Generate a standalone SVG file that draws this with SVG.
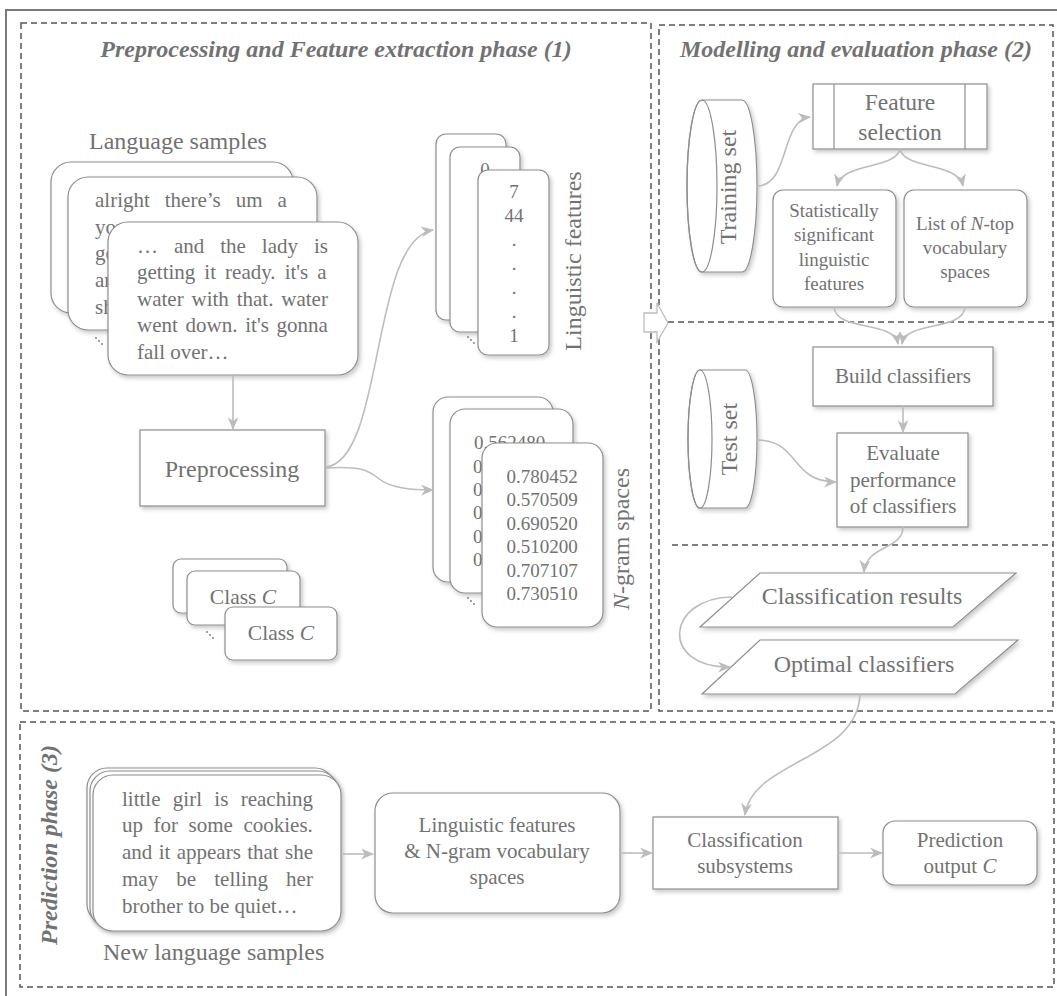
<svg xmlns="http://www.w3.org/2000/svg" width="1057" height="996" viewBox="0 0 1057 996">
<defs>
<filter id="sh" x="-10%" y="-10%" width="130%" height="130%">
<feDropShadow dx="2" dy="2.5" stdDeviation="2" flood-color="#000" flood-opacity="0.22"/>
</filter>
<marker id="ah" viewBox="0 0 12 10" refX="11" refY="5" markerWidth="13" markerHeight="11" markerUnits="userSpaceOnUse" orient="auto">
<path d="M0,0 L12,5 L0,10 L3.5,5 Z" fill="#bcbcbc"/>
</marker>
<style>
.t{font-family:"Liberation Serif","Times New Roman",serif;fill:#727272;}
.ttl{font-weight:bold;font-style:italic;font-size:24px;}
.s24{font-size:24px;}
.s21{font-size:21px;}
.s19{font-size:19px;}
.m{text-anchor:middle;}
.box{fill:#fff;stroke:#8e8e8e;stroke-width:1.2;filter:url(#sh);}
.dash{fill:none;stroke:#555;stroke-width:1.5;stroke-dasharray:6 4;}
.con{fill:none;stroke:#bdbdbd;stroke-width:1.6;marker-end:url(#ah);}
.dot{fill:#777;}
</style>
</defs>
<rect width="1057" height="996" fill="#fff"/>
<path d="M6,1000 V10 H1062" fill="none" stroke="#7a7a7a" stroke-width="2"/>

<g id="phases">
<rect class="dash" x="21" y="23" width="630" height="688"/>
<rect class="dash" x="659" y="25" width="394" height="686"/>
<rect class="dash" x="20" y="722" width="1034" height="265"/>
<line class="dash" x1="668" y1="322" x2="1053" y2="322"/>
<line class="dash" x1="672" y1="545" x2="1053" y2="545"/>
<text class="t ttl m" x="336" y="57">Preprocessing and Feature extraction phase (1)</text>
<text class="t ttl m" x="856" y="57">Modelling and evaluation phase (2)</text>
<text class="t ttl m" transform="translate(57,845) rotate(-90)">Prediction phase (3)</text>
</g>

<g id="language-samples">
<text class="t s24" x="89" y="149">Language samples</text>
<rect class="box" x="51" y="162" width="242" height="151" rx="20"/>
<rect class="box" x="68" y="177" width="249" height="153" rx="20"/>
<text class="t s21" x="95" y="207" word-spacing="9.7">alright there’s um a</text>
<text class="t s21" x="95" y="234">you</text>
<text class="t s21" x="95" y="260">ge</text>
<text class="t s21" x="95" y="287">ar</text>
<text class="t s21" x="95" y="314">sh</text>
<rect class="box" x="108" y="222" width="250" height="153" rx="20"/>
<text class="t s21" x="137" y="253" word-spacing="10.7">… and the lady is</text>
<text class="t s21" x="137" y="279" word-spacing="3.8">getting it ready. it's a</text>
<text class="t s21" x="137" y="306" word-spacing="2.6">water with that. water</text>
<text class="t s21" x="137" y="332" word-spacing="2.5">went down. it's gonna</text>
<text class="t s21" x="137" y="359">fall over…</text>
<circle class="dot" cx="96" cy="338" r="0.9"/><circle class="dot" cx="99" cy="341" r="0.9"/><circle class="dot" cx="102" cy="344" r="0.9"/>
</g>

<g id="preprocessing">
<rect class="box" x="140" y="430" width="185" height="76"/>
<text class="t s24 m" x="232" y="477">Preprocessing</text>
</g>

<g id="class-c">
<rect class="box" x="173" y="559" width="114" height="54" rx="8"/>
<rect class="box" x="187" y="571" width="113" height="54" rx="8"/>
<text class="t m" style="font-size:21.5px" x="243" y="604">Class <tspan font-style="italic">C</tspan></text>
<rect class="box" x="225" y="607" width="112" height="53" rx="8"/>
<text class="t m" style="font-size:21.5px" x="281" y="640">Class <tspan font-style="italic">C</tspan></text>
<circle class="dot" cx="207" cy="632" r="0.9"/><circle class="dot" cx="210" cy="635" r="0.9"/><circle class="dot" cx="213" cy="638" r="0.9"/>
</g>

<g id="linguistic-features">
<rect class="box" x="436" y="134" width="70" height="186" rx="10"/>
<rect class="box" x="450" y="147" width="70" height="185" rx="10"/>
<text class="t s19 m" x="485" y="176">0</text>
<rect class="box" x="478" y="170" width="71" height="185" rx="10"/>
<text class="t s19 m" x="514" y="198">7</text>
<text class="t s19 m" x="514" y="222">44</text>
<text class="t s19 m" x="514" y="246">.</text>
<text class="t s19 m" x="514" y="270">.</text>
<text class="t s19 m" x="514" y="294">.</text>
<text class="t s19 m" x="514" y="318">.</text>
<text class="t s19 m" x="514" y="342">1</text>
<circle class="dot" cx="468" cy="337" r="0.9"/><circle class="dot" cx="471" cy="340" r="0.9"/><circle class="dot" cx="474" cy="343" r="0.9"/>
<text class="t s24 m" transform="translate(581,261) rotate(-90)">Linguistic features</text>
</g>

<g id="ngram-spaces">
<rect class="box" x="433" y="397" width="120" height="185" rx="15"/>
<rect class="box" x="450" y="409" width="123" height="184" rx="15"/>
<text class="t s19" x="474" y="449">0.562480</text>
<text class="t s19" x="473" y="473">0</text>
<text class="t s19" x="473" y="496">0</text>
<text class="t s19" x="473" y="519">0</text>
<text class="t s19" x="473" y="543">0</text>
<text class="t s19" x="473" y="566">0</text>
<rect class="box" x="482" y="443" width="121" height="184" rx="15"/>
<text class="t s19 m" x="542" y="483">0.780452</text>
<text class="t s19 m" x="542" y="506">0.570509</text>
<text class="t s19 m" x="542" y="530">0.690520</text>
<text class="t s19 m" x="542" y="553">0.510200</text>
<text class="t s19 m" x="542" y="577">0.707107</text>
<text class="t s19 m" x="542" y="600">0.730510</text>
<circle class="dot" cx="468" cy="598" r="0.9"/><circle class="dot" cx="471" cy="601" r="0.9"/><circle class="dot" cx="474" cy="604" r="0.9"/>
<text class="t s24 m" transform="translate(629,539) rotate(-90)"><tspan font-style="italic">N</tspan>-gram spaces</text>
</g>

<g id="training-set">
<path class="box" d="M702,100 H742 A15,86 0 0 1 742,272 H702 A15,86 0 0 1 702,100 Z"/>
<ellipse cx="702" cy="186" rx="15" ry="86" fill="none" stroke="#8e8e8e" stroke-width="1.2"/>
<text class="t s24 m" transform="translate(736,187) rotate(-90)">Training set</text>
</g>

<g id="feature-selection">
<rect class="box" x="813" y="84" width="174" height="65"/>
<line x1="834" y1="84" x2="834" y2="149" stroke="#8e8e8e" stroke-width="1.2"/>
<line x1="965" y1="84" x2="965" y2="149" stroke="#8e8e8e" stroke-width="1.2"/>
<text class="t m" style="font-size:23.5px" x="900" y="110">Feature</text>
<text class="t m" style="font-size:23.5px" x="900" y="140">selection</text>
</g>

<g id="significant-features">
<rect class="box" x="773" y="190" width="123" height="117" rx="10"/>
<text class="t s19 m" x="834" y="217">Statistically</text>
<text class="t s19 m" x="834" y="241">significant</text>
<text class="t s19 m" x="834" y="266">linguistic</text>
<text class="t s19 m" x="834" y="290">features</text>
</g>

<g id="ntop-spaces">
<rect class="box" x="904" y="190" width="123" height="117" rx="10"/>
<text class="t s19 m" x="965" y="230">List of <tspan font-style="italic">N</tspan>-top</text>
<text class="t s19 m" x="965" y="254">vocabulary</text>
<text class="t s19 m" x="965" y="278">spaces</text>
</g>

<g id="build-classifiers">
<rect class="box" x="813" y="347" width="180" height="59"/>
<text class="t s21 m" x="903" y="383">Build classifiers</text>
</g>

<g id="test-set">
<path class="box" d="M700,370 H745 A12,69 0 0 1 745,508 H700 A12,69 0 0 1 700,370 Z"/>
<ellipse cx="700" cy="439" rx="12" ry="69" fill="none" stroke="#8e8e8e" stroke-width="1.2"/>
<text class="t s24 m" transform="translate(737,439) rotate(-90)">Test set</text>
</g>

<g id="evaluate">
<rect class="box" x="837" y="433" width="131" height="94"/>
<text class="t s21 m" x="903" y="460">Evaluate</text>
<text class="t s21 m" x="903" y="487">performance</text>
<text class="t s21 m" x="903" y="513">of classifiers</text>
</g>

<g id="classification-results">
<polygon class="box" points="700,627 760,573 1016,573 953,627"/>
<text class="t s24 m" x="862" y="604">Classification results</text>
</g>

<g id="optimal-classifiers">
<polygon class="box" points="702,694 760,640 1018,640 955,694"/>
<text class="t s24 m" x="864" y="672">Optimal classifiers</text>
</g>

<g id="new-samples">
<rect class="box" x="87" y="768" width="248" height="156" rx="20"/>
<rect class="box" x="90" y="771" width="248" height="157" rx="20"/>
<rect class="box" x="93" y="775" width="248" height="156" rx="20"/>
<text class="t s21" x="122" y="806" word-spacing="7.1">little girl is reaching</text>
<text class="t s21" x="122" y="832" word-spacing="5.3">up for some cookies.</text>
<text class="t s21" x="122" y="859" word-spacing="1.1">and it appears that she</text>
<text class="t s21" x="122" y="886" word-spacing="12.9">may be telling her</text>
<text class="t s21" x="122" y="913">brother to be quiet…</text>
<text class="t s24" x="103" y="960">New language samples</text>
</g>

<g id="pred-features">
<rect class="box" x="375" y="793" width="245" height="120" rx="18"/>
<text class="t s21 m" x="497" y="832">Linguistic features</text>
<text class="t s21 m" x="497" y="858">&amp; N-gram vocabulary</text>
<text class="t s21 m" x="497" y="884">spaces</text>
</g>

<g id="classification-subsystems">
<rect class="box" x="653" y="817" width="185" height="72"/>
<text class="t s21 m" x="745" y="847">Classification</text>
<text class="t s21 m" x="745" y="873">subsystems</text>
</g>

<g id="prediction-output">
<rect class="box" x="883" y="821" width="154" height="64" rx="12"/>
<text class="t s21 m" x="960" y="847">Prediction</text>
<text class="t s21 m" x="960" y="873">output <tspan font-style="italic">C</tspan></text>
</g>

<g id="connectors">
<path class="con" d="M233,375 V429"/>
<path class="con" d="M326,467 C385,460 370,240 433,230"/>
<path class="con" d="M326,468 C360,466 368,470 378,478 C390,488 410,490 433,490"/>
<path class="con" d="M757,186 C790,186 780,120 810,117"/>
<path class="con" d="M900,149 C895,170 842,162 837,186"/>
<path class="con" d="M900,149 C905,170 958,162 963,186"/>
<path class="con" d="M834,307 C836,332 894,320 898,344"/>
<path class="con" d="M965,307 C963,332 906,320 902,344"/>
<path class="con" d="M903,406 V432"/>
<path class="con" d="M757,440 C800,440 790,482 836,482"/>
<path class="con" d="M903,527 C903,550 866,545 864,572"/>
<path class="con" d="M732,597 C665,598 660,668 730,667"/>
<path class="con" d="M860,694 C858,760 752,760 745,815"/>
<path class="con" d="M343,854 H373"/>
<path class="con" d="M620,853 H652"/>
<path class="con" d="M838,853 H882"/>
<polygon points="644,313 657,313 657,303 668,323 657,342 657,332 644,332" fill="#fff" stroke="#bdbdbd" stroke-width="1.3"/>
</g>
</svg>
